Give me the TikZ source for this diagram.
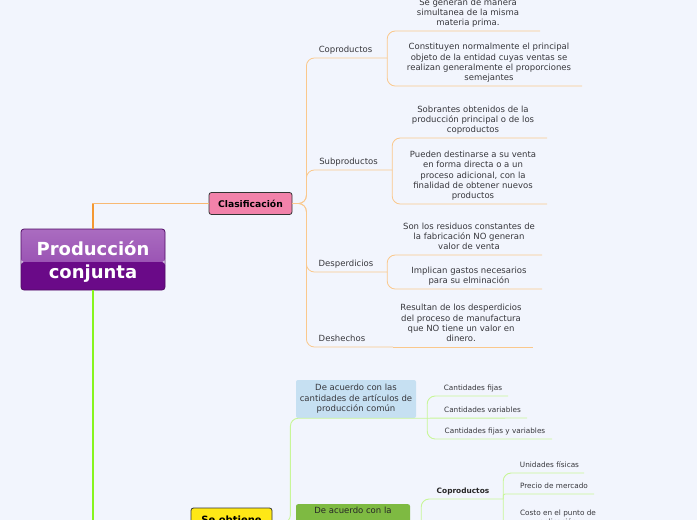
\documentclass[tikz,border=0pt]{standalone}
\usepackage{fontspec}
\setmainfont{DejaVu Sans}
\usetikzlibrary{calc}

\definecolor{bgcol}{RGB}{242,245,253}
\definecolor{txtcol}{RGB}{55,55,60}
\definecolor{orangedark}{RGB}{244,152,50}
\definecolor{orangelight}{RGB}{250,200,140}
\definecolor{orangemid}{RGB}{248,185,115}
\definecolor{greenbright}{RGB}{135,245,30}
\definecolor{greenlight}{RGB}{200,246,152}
\definecolor{purpletop}{RGB}{170,108,192}
\definecolor{purplemid}{RGB}{142,64,170}
\definecolor{purpledark}{RGB}{106,10,136}
\definecolor{purpleborder}{RGB}{80,10,100}
\definecolor{pinkfill}{RGB}{242,130,170}
\definecolor{yellowfill}{RGB}{255,232,22}
\definecolor{bluefill}{RGB}{198,224,242}
\definecolor{greenfill}{RGB}{126,186,66}

\tikzset{
  leaf/.style={font=\fontsize{8.5}{10.4}\selectfont, text=txtcol, align=center,
    inner xsep=0pt, inner ysep=2.5pt, text depth=2.5pt, anchor=south, minimum width=#1},
  smallleaf/.style={leaf=#1, font=\fontsize{7.3}{9}\selectfont},
  topicbox/.style={draw=black!80, line width=0.8pt, rounded corners=2.5pt,
    font=\fontsize{9.2}{11}\selectfont\bfseries, text=black, inner sep=0pt},
  subbox/.style={rounded corners=2pt, font=\fontsize{8.5}{10.5}\selectfont, text=txtcol,
    align=center, inner sep=0pt},
  obranch/.style={orangelight, line width=0.8pt, rounded corners=8pt},
  gbranch/.style={greenlight, line width=0.9pt, rounded corners=8pt},
}

\begin{document}
\begin{tikzpicture}[x=1pt,y=-1pt]
    % Background
    \fill[bgcol] (0,0) rectangle (697,520);
    \useasboundingbox (0,0) rectangle (697,520);
    \clip (0,0) rectangle (697,520);

    % Central topic
    \node[draw=purpleborder, line width=0.8pt, rounded corners=3pt,
        minimum width=144, minimum height=61, inner sep=0pt, align=center,
        text=white, font=\fontsize{18}{23}\selectfont\bfseries, text depth=-2pt,
        path picture={
            \shade[top color=purpletop, bottom color=purplemid]
                (path picture bounding box.north west) rectangle ([yshift=-2.5pt]path picture bounding box.east);
            \fill[purpledark]
                ([yshift=-2.5pt]path picture bounding box.west) rectangle (path picture bounding box.south east);
        }] (prod) at (93,259.5) {Producción\\conjunta};

    % Main topics
    \node[topicbox, fill=pinkfill, minimum width=83, minimum height=22] (clas) at (250.5,203.5) {Clasificación};
    \node[topicbox, fill=yellowfill, minimum width=81, minimum height=30, text depth=6pt,
        font=\fontsize{10}{12}\selectfont\bfseries] (seob) at (231.5,523) {Se obtiene};

    \draw[orangemid, line width=1.1pt] (prod.north) |- (clas.west);
    \draw[orangedark, line width=1.2pt] (prod.north) -- (prod.north |- clas.west);
    \draw[greenbright, line width=2pt] (prod.south) |- (seob.west);

    % Clasificacion
    \node[leaf=83] (cop) at (345.5,58) {Coproductos};
    \node[leaf=87] (sub) at (348.5,170) {Subproductos};
    \node[leaf=82] (desp) at (346,272) {Desperdicios};
    \node[leaf=102] (desh) at (342,347) {Deshechos};
    \foreach \c in {cop,sub,desp,desh}
        \draw[obranch] (clas.east) -- ++(14,0) |- (\c.south east);

    \node[leaf=144] (sg) at (468,31) {Se generan de manera\\simultanea de la misma\\materia prima.};
    \node[leaf=186] (con) at (489,86) {Constituyen normalmente el principal\\objeto de la entidad cuyas ventas se\\realizan generalmente el proporciones\\semejantes};
    \node[leaf=148] (sob) at (473,138) {Sobrantes obtenidos de la\\producción principal o de los\\coproductos};
    \node[leaf=148] (pue) at (473,204) {Pueden destinarse a su venta\\en forma directa o a un\\proceso adicional, con la\\finalidad de obtener nuevos\\productos};
    \node[leaf=146] (son) at (469,255) {Son los residuos constantes de\\la fabricación NO generan\\valor de venta};
    \node[leaf=146] (imp) at (469,289) {Implican gastos necesarios\\para su elminación};
    \node[leaf=144] (res) at (461,347) {Resultan de los desperdicios\\del proceso de manufactura\\que NO tiene un valor en\\dinero.};
    \foreach \p/\c in {cop/sg, cop/con, sub/sob, sub/pue, desp/son, desp/imp}
        \draw[obranch] (\p.south east) |- (\c.south east);
    \draw[obranch] (desh.south east) -- (res.south east);

    % Se obtiene
    \node[subbox, fill=bluefill, minimum width=120, minimum height=38] (acq) at (356,399)
        {De acuerdo con las\\cantidades de artículos de\\producción común};
    \node[subbox, fill=greenfill, minimum width=114, inner ysep=3pt, text depth=30pt,
        text=black!85, anchor=north] (nat) at (353,504) {De acuerdo con la};
    \foreach \c in {acq,nat}
        \draw[gbranch] (seob.east) -- ++(18,0) |- ([xshift=11pt]\c.south east);

    \node[smallleaf=70] (fij) at (473,396) {Cantidades fijas};
    \node[smallleaf=89] (var) at (482.5,418) {Cantidades variables};
    \node[smallleaf=114] (fyv) at (495,439) {Cantidades fijas y variables};
    \foreach \c in {fij,fyv}
        \draw[gbranch] ([xshift=11pt]acq.south east) |- (\c.south east);
    \draw[gbranch] ([xshift=11pt]acq.south east) -- (var.south east);

    \node[smallleaf=80, font=\fontsize{7.4}{9}\selectfont\bfseries, text=black!85] (cop2) at (463,499) {Coproductos};
    \draw[gbranch] (nat.south east) -- ++(11,0) |- (cop2.south east);

    \node[smallleaf=69] (uni) at (549.5,473) {Unidades físicas};
    \node[smallleaf=80] (pre) at (554,494) {Precio de mercado};
    \node[smallleaf=92] (cos) at (558,529.5) {Costo en el punto de\\aplicación};
    \foreach \c/\r in {uni/8, pre/2, cos/8}
        \draw[gbranch, rounded corners=\r pt] (cop2.south east) |- (\c.south east);

\end{tikzpicture}
\end{document}
